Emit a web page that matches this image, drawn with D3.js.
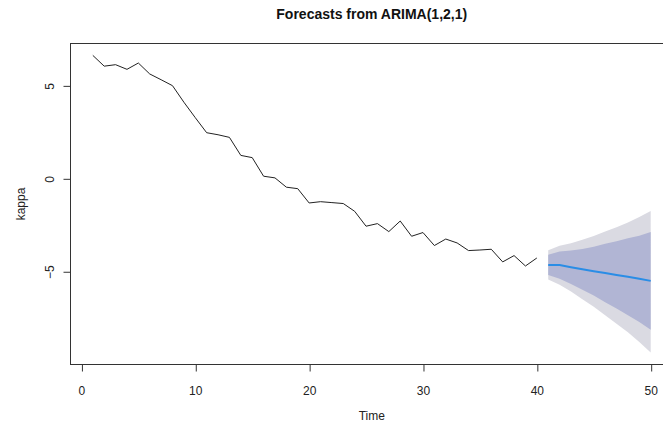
<!DOCTYPE html>
<html><head><meta charset="utf-8">
<script src="https://cdn.jsdelivr.net/npm/d3@7"></script>
<style>body{margin:0;background:#fff}svg{display:block}</style>
</head><body>
<svg id="c" width="663" height="427"></svg>
<script>
const observed = [6.64,6.06,6.14,5.89,6.23,5.64,5.33,5.01,4.12,3.29,2.48,2.37,2.23,1.26,1.14,0.14,0.05,-0.45,-0.53,-1.30,-1.23,-1.28,-1.33,-1.75,-2.55,-2.41,-2.84,-2.27,-3.09,-2.89,-3.59,-3.24,-3.45,-3.86,-3.83,-3.79,-4.47,-4.13,-4.69,-4.26];
const fcMean  = [-4.63,-4.64,-4.76,-4.87,-4.97,-5.07,-5.17,-5.27,-5.38,-5.49];
const upper95 = [-3.84,-3.60,-3.46,-3.28,-3.08,-2.84,-2.60,-2.35,-2.06,-1.73];
const lower95 = [-5.42,-5.70,-6.06,-6.48,-6.88,-7.34,-7.80,-8.26,-8.78,-9.35];
const upper80 = [-4.09,-3.91,-3.86,-3.77,-3.66,-3.50,-3.36,-3.20,-3.06,-2.86];
const lower80 = [-5.18,-5.37,-5.66,-5.97,-6.28,-6.64,-6.98,-7.34,-7.70,-8.12];
const xTicks = [0,10,20,30,40,50];
const yTicks = [-5,0,5];

const obsT = observed.map((_,i)=>i+1);
const fcT = fcMean.map((_,i)=>observed.length+i+1);

const svg = d3.select("#c");
const L=70.5, R=673, T=43.5, B=364.5;
function ext(a,b){const d=b-a;return [a-0.04*d,b+0.04*d];}
const allT = obsT.concat(fcT);
const allY = observed.concat(upper95, lower95);
const x = d3.scaleLinear().domain(ext(d3.min(allT), d3.max(allT))).range([L,R]);
const y = d3.scaleLinear().domain(ext(d3.min(allY), d3.max(allY))).range([B,T]);

const font = "'Liberation Sans', Arial, sans-serif";

// bands
function band(lo, hi){
  return d3.area().x((d,i)=>x(fcT[i])).y0((d,i)=>y(lo[i])).y1((d,i)=>y(hi[i]))(fcT);
}
svg.append("path").attr("d", band(lower95, upper95)).attr("fill", "#dadae2");
svg.append("path").attr("d", band(lower80, upper80)).attr("fill", "#b1b5d4");

// observed line
svg.append("path")
  .datum(observed)
  .attr("d", d3.line().x((d,i)=>x(obsT[i])).y(d=>y(d)))
  .attr("fill","none").attr("stroke","#222").attr("stroke-width",1);

// forecast mean
svg.append("path")
  .datum(fcMean)
  .attr("d", d3.line().x((d,i)=>x(fcT[i])).y(d=>y(d)))
  .attr("fill","none").attr("stroke","#2a8de6").attr("stroke-width",2);

// box
svg.append("rect").attr("x",L).attr("y",T).attr("width",R-L).attr("height",B-T)
  .attr("fill","none").attr("stroke","#333").attr("stroke-width",1);

// x axis
const gx = svg.append("g").attr("transform",`translate(0,${B})`)
  .call(d3.axisBottom(x).tickValues(xTicks).tickSize(7).tickSizeOuter(0).tickPadding(15).tickFormat(d3.format("d")));
gx.select(".domain").remove();
gx.selectAll("line").attr("stroke","#333").attr("transform","translate(0.5,0)");
gx.selectAll("text").attr("font-family",font).attr("font-size",12).attr("fill","#222");

// y axis
const gy = svg.append("g").attr("transform",`translate(${L},0)`)
  .call(d3.axisLeft(y).tickValues(yTicks).tickSize(7).tickSizeOuter(0).tickFormat(d3.format("d")));
gy.select(".domain").remove();
gy.selectAll("line").attr("stroke","#333");
gy.selectAll("text").attr("font-family",font).attr("font-size",12).attr("fill","#222")
  .attr("text-anchor","middle").attr("dy",null).attr("x",null)
  .attr("transform","translate(-21,0) rotate(-90)").attr("dy","0.35em");

// labels
svg.append("text").attr("x",(L+R)/2).attr("y",19).attr("text-anchor","middle")
  .attr("font-family",font).attr("font-weight","bold").attr("font-size",14).attr("fill","#111")
  .text("Forecasts from ARIMA(1,2,1)");
svg.append("text").attr("x",(L+R)/2).attr("y",420).attr("text-anchor","middle")
  .attr("font-family",font).attr("font-size",12).attr("fill","#222").text("Time");
svg.append("text").attr("transform",`translate(25,${(T+B)/2}) rotate(-90)`).attr("text-anchor","middle")
  .attr("font-family",font).attr("font-size",12).attr("fill","#222").text("kappa");
</script>
</body></html>
